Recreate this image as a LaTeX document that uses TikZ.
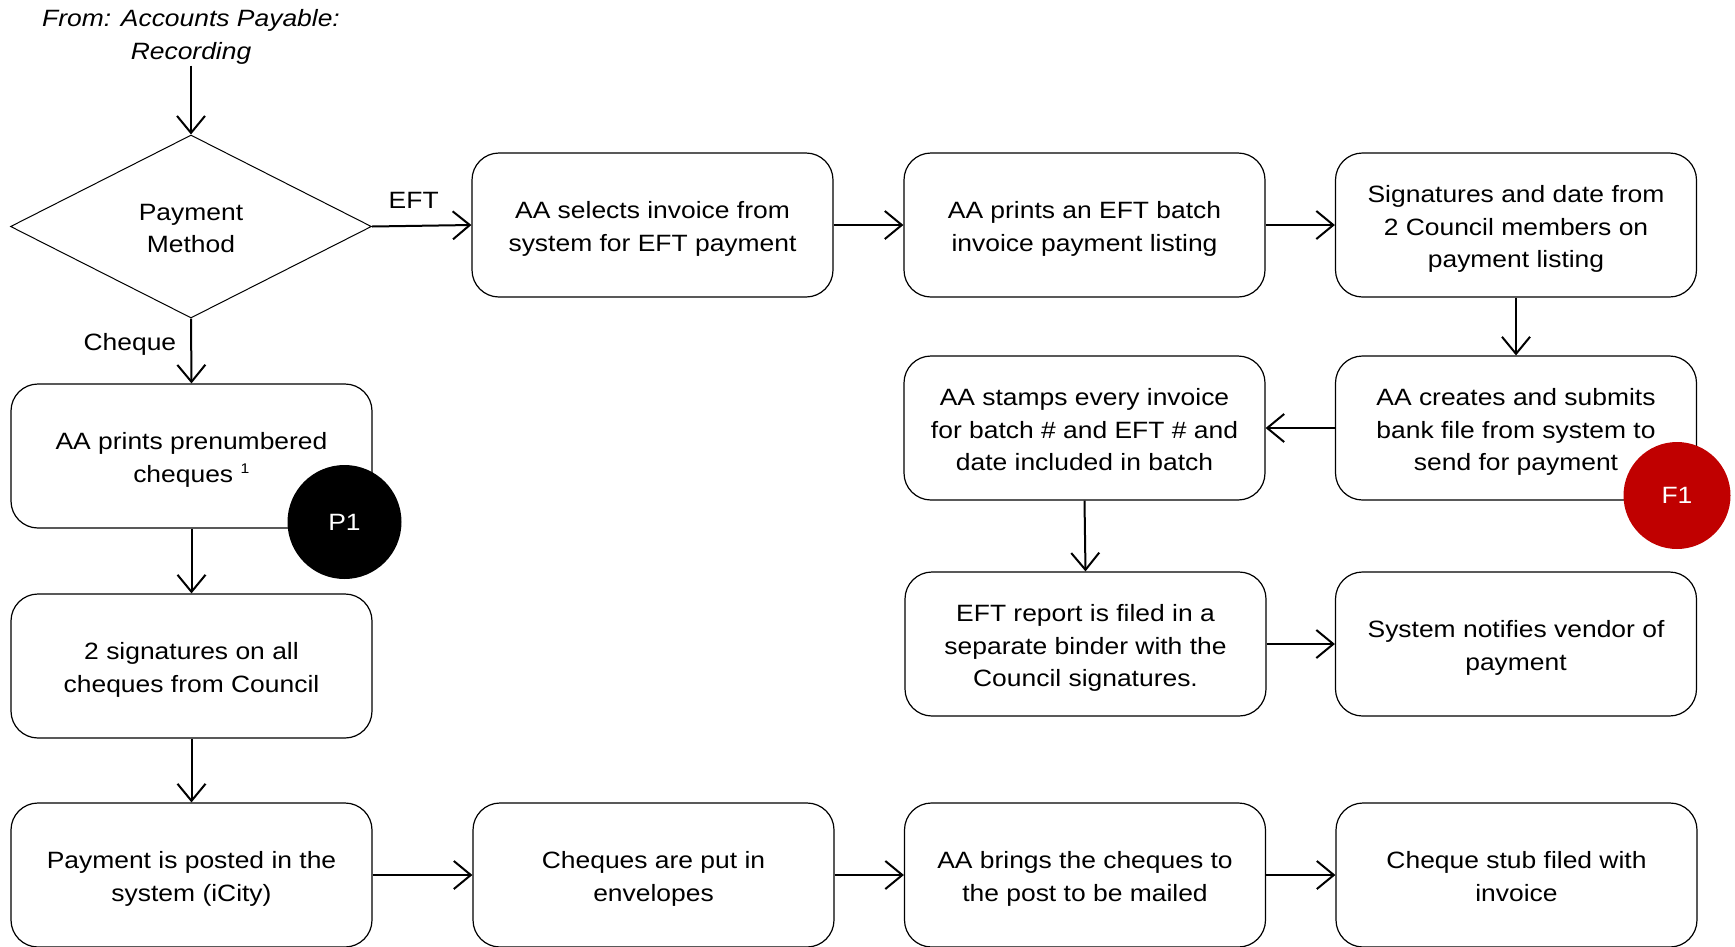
\documentclass[tikz,border=0pt]{standalone}
\usepackage{fontspec}
\setmainfont{Liberation Sans}[FakeStretch=1.12]
\usetikzlibrary{arrows.meta,shapes.geometric}

% every text line gets the same line box, so all labels centre alike
\newcommand{\linebox}{\rule[-6.25pt]{0pt}{32.5pt}}
\newcommand{\lines}[1]{\linebox#1\linebox}

\tikzset{
  stepbox/.style={draw=black, line width=1.2pt, rounded corners=27pt,
    minimum width=361pt, minimum height=144pt, inner sep=0pt,
    align=center},
  decision/.style={draw=black, line width=1pt, diamond,
    minimum width=361pt, minimum height=183pt, inner sep=0pt, align=center},
  flow/.style={line width=2pt,
    -{Straight Barb[length=17pt,width=28pt,line width=2pt]}},
  marker/.style={circle, minimum size=114pt, inner sep=0pt, text=white},
  lbl/.style={inner sep=0pt}
}

\begin{document}
\begin{tikzpicture}[x=1pt, y=-1pt,
  every node/.append style={font=\fontsize{23.6}{32.5}\selectfont}]
\clip (0,0) rectangle (1735,946);
\fill[white] (0,0) rectangle (1735,946);

% entry point
\node[lbl, align=center, font=\fontsize{23.6}{32.5}\selectfont\itshape]
  (src) at (191,33) {\lines{From: Accounts Payable:\\Recording}};
\node[decision] (dec) at (191,226.5) {\lines{Payment\\Method}};

% EFT branch
\node[stepbox] (sel)   at (652.5,225) {\lines{AA selects invoice from\\system for EFT payment}};
\node[stepbox] (batch) at (1084.5,225) {\lines{AA prints an EFT batch\\invoice payment listing}};
\node[stepbox] (sign)  at (1516,225) {\lines{Signatures and date from\\2 Council members on\\payment listing}};
\node[stepbox] (bank)  at (1516,428) {\lines{AA creates and submits\\bank file from system to\\send for payment}};
\node[stepbox] (stamp) at (1084.5,428) {\lines{AA stamps every invoice\\for batch \# and EFT \# and\\date included in batch}};
\node[stepbox] (file)  at (1085.5,644) {\lines{EFT report is filed in a\\separate binder with the\\Council signatures.}};
\node[stepbox] (notify) at (1516,644) {\lines{System notifies vendor of\\payment}};

% cheque branch
\node[stepbox] (print) at (191.5,456) {\lines{AA prints prenumbered\\cheques \textsuperscript{\fontsize{14}{14}\selectfont 1}}};
\node[stepbox] (twosig) at (191.5,666) {\lines{2 signatures on all\\cheques from Council}};
\node[stepbox] (post)  at (191.5,875) {\lines{Payment is posted in the\\system (iCity)}};
\node[stepbox] (env)   at (653.5,875) {\lines{Cheques are put in\\envelopes}};
\node[stepbox] (mail)  at (1085,875) {\lines{AA brings the cheques to\\the post to be mailed}};
\node[stepbox] (stub)  at (1516.5,875) {\lines{Cheque stub filed with\\invoice}};

% control markers
\node[marker, fill=black] (p1) at (344.5,522) {P1};
\node[marker, fill={rgb,255:red,192;green,0;blue,0}, minimum size=107pt] (f1) at (1677,495.5) {F1};

% connectors
\draw[flow] (src) -- (dec);
\draw[flow] (dec.east) -- node[lbl, above=16pt, xshift=-8pt] {EFT} (sel.west);
\draw[flow] (dec.south) -- node[lbl, left=14pt, pos=0.4] {Cheque} (print.north);
\draw[flow] (sel) -- (batch);
\draw[flow] (batch) -- (sign);
\draw[flow] (sign) -- (bank);
\draw[flow] (bank) -- (stamp);
\draw[flow] (stamp.south) -- (file.north);
\draw[flow] (file) -- (notify);
\draw[flow] (print) -- (twosig);
\draw[flow] (twosig) -- (post);
\draw[flow] (post) -- (env);
\draw[flow] (env) -- (mail);
\draw[flow] (mail) -- (stub);
\end{tikzpicture}
\end{document}
